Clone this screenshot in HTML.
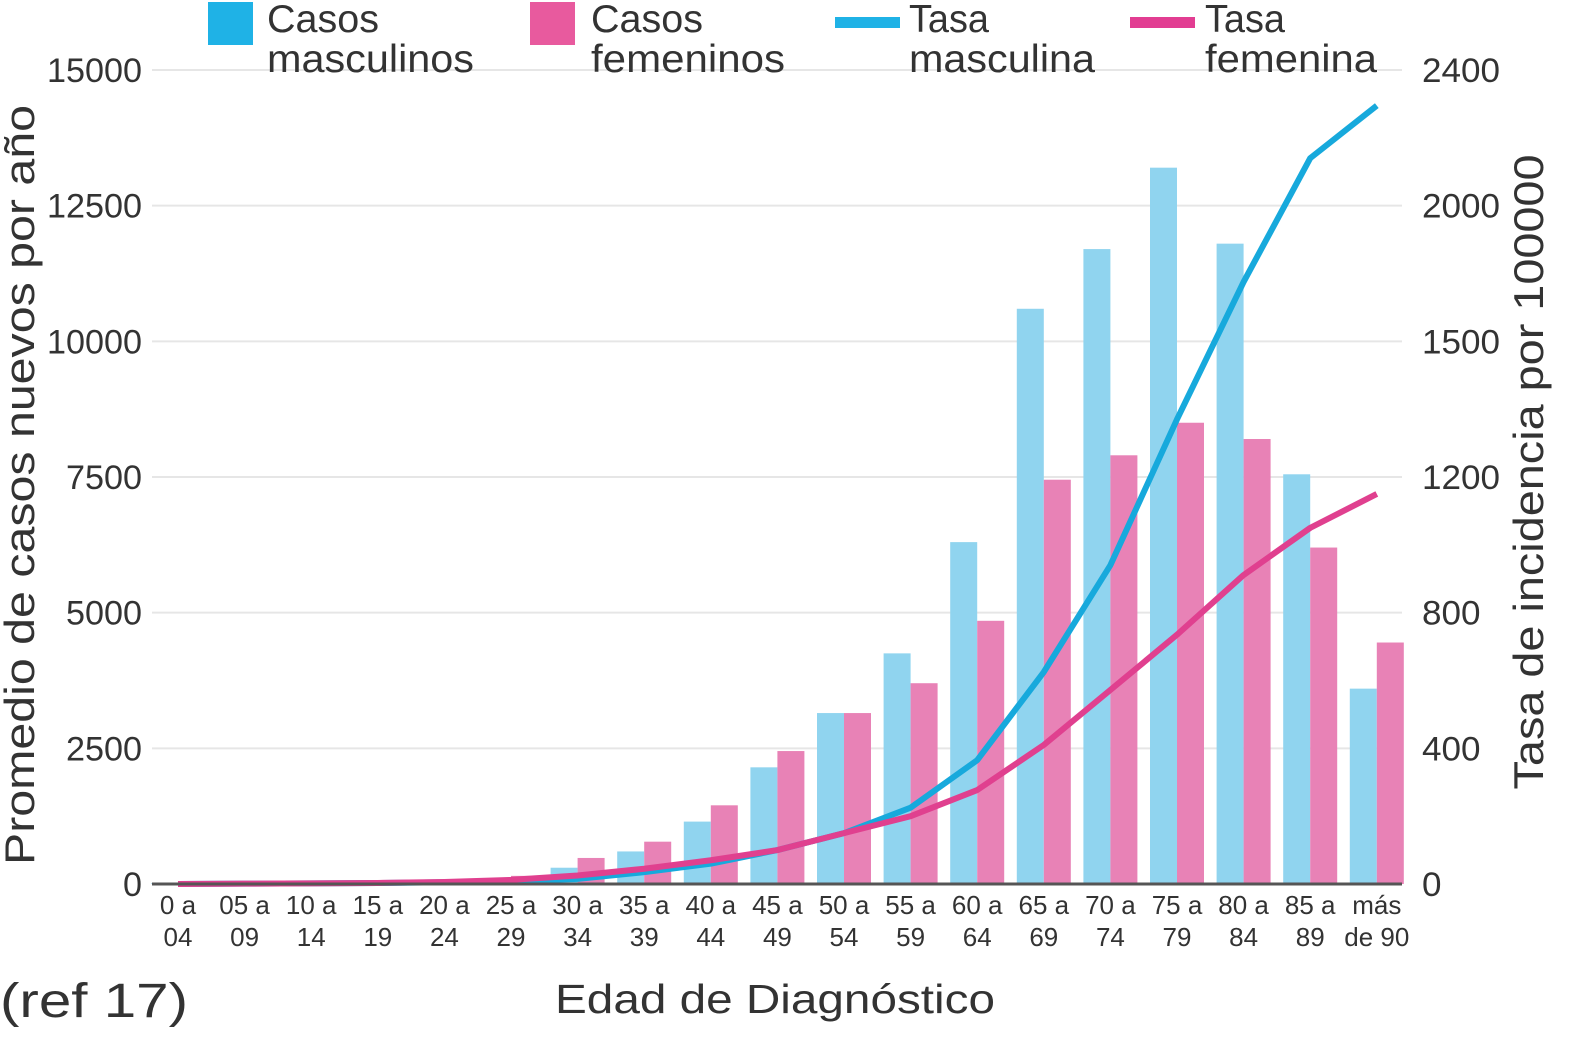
<!DOCTYPE html>
<html><head><meta charset="utf-8"><style>
body{margin:0;background:#fff;}
svg{display:block;font-family:"Liberation Sans","DejaVu Sans",sans-serif;}
</style></head><body>
<svg id="chart" width="1583" height="1037">
<g id="grid"></g><g id="bars"></g><g id="lines"></g><g id="axes"></g>
<g font-size="39" fill="#333">
 <rect x="208" y="2" width="45" height="43" fill="#1fb2e6"/>
 <text x="267" y="32" textLength="112" lengthAdjust="spacingAndGlyphs">Casos</text>
 <text x="267" y="72" textLength="207" lengthAdjust="spacingAndGlyphs">masculinos</text>
 <rect x="530" y="2" width="45" height="43" fill="#e85a9e"/>
 <text x="591" y="32" textLength="112" lengthAdjust="spacingAndGlyphs">Casos</text>
 <text x="591" y="72" textLength="194" lengthAdjust="spacingAndGlyphs">femeninos</text>
 <rect x="835" y="17" width="65" height="11" fill="#1fb2e6"/>
 <text x="909" y="32" textLength="80" lengthAdjust="spacingAndGlyphs">Tasa</text>
 <text x="909" y="72" textLength="186" lengthAdjust="spacingAndGlyphs">masculina</text>
 <rect x="1130" y="17" width="65" height="11" fill="#e23d92"/>
 <text x="1205" y="32" textLength="80" lengthAdjust="spacingAndGlyphs">Tasa</text>
 <text x="1205" y="72" textLength="172" lengthAdjust="spacingAndGlyphs">femenina</text>
</g>
<text x="34" y="485" font-size="42" fill="#333" text-anchor="middle" textLength="760" lengthAdjust="spacingAndGlyphs" transform="rotate(-90 34 485)">Promedio de casos nuevos por año</text>
<text x="1543" y="472" font-size="42" fill="#333" text-anchor="middle" textLength="635" lengthAdjust="spacingAndGlyphs" transform="rotate(-90 1543 472)">Tasa de incidencia por 100000</text>
<text x="775" y="1013" font-size="41" fill="#333" text-anchor="middle" textLength="440" lengthAdjust="spacingAndGlyphs">Edad de Diagnóstico</text>
<text x="0" y="1017" font-size="48" fill="#333" textLength="188" lengthAdjust="spacingAndGlyphs">(ref 17)</text>
</svg>
<script>
const categoriesTop=["0 a","05 a","10 a","15 a","20 a","25 a","30 a","35 a","40 a","45 a","50 a","55 a","60 a","65 a","70 a","75 a","80 a","85 a","más"];
const categoriesBottom=["04","09","14","19","24","29","34","39","44","49","54","59","64","69","74","79","84","89","de 90"];
const maleCases=[10,15,20,30,50,80,300,600,1150,2150,3150,4250,6300,10600,11700,13200,11800,7550,3600];
const femaleCases=[10,15,20,30,60,150,480,780,1450,2450,3150,3700,4850,7450,7900,8500,8200,6200,4450];
const maleRate=[0,1,2,3,5,8,15,35,60,100,150,225,365,625,940,1370,1775,2140,2295];
const femaleRate=[0,1,2,3,6,12,25,45,70,100,150,200,277,410,572,735,911,1050,1150];
const leftTicks=[0,2500,5000,7500,10000,12500,15000];
const rightTickLabels=["0","400","800","1200","1500","2000","2400"];
const NS="http://www.w3.org/2000/svg";
const y0=884,yTop=70,x0=152,x1=1402;
const yL=v=>y0-(v/15000)*(y0-yTop);
const yR=v=>y0-(v/2400)*(y0-yTop);
const xC=i=>178+i*66.6;
function mk(t,a,p){const e=document.createElementNS(NS,t);for(const k in a)e.setAttribute(k,a[k]);p.appendChild(e);return e;}
const grid=document.getElementById('grid'),axes=document.getElementById('axes');
leftTicks.forEach((v,i)=>{
 const y=yL(v);
 if(i>0){const g=mk('line',{x1:x0,x2:x1,y1:y,y2:y,stroke:'#e6e6e6','stroke-width':2},grid);
 
 }
 const s=String(v);
 const t=mk('text',{x:142,y:y+12,'font-size':34,fill:'#333','text-anchor':'end',textLength:s.length*19,lengthAdjust:'spacingAndGlyphs'},axes);t.textContent=s;
 
 
 const rs=rightTickLabels[i];
 const r=mk('text',{x:1422,y:y+12,'font-size':34,fill:'#333',textLength:rs.length*19.5,lengthAdjust:'spacingAndGlyphs'},axes);r.textContent=rs;
 
 
});
const bars=document.getElementById('bars');
const bw=27;
categoriesTop.forEach((c,i)=>{
 const cx=xC(i);
 const m=mk('rect',{x:cx-bw,y:yL(maleCases[i]),width:bw,height:y0-yL(maleCases[i]),fill:'#90d4ef'},bars);
 
 
 const f=mk('rect',{x:cx,y:yL(femaleCases[i]),width:bw,height:y0-yL(femaleCases[i]),fill:'#e882b6'},bars);
 
 
 const t1=mk('text',{x:cx,y:914,'font-size':26,fill:'#333','text-anchor':'middle'},axes);t1.textContent=c;
 
 
 const t2=mk('text',{x:cx,y:946,'font-size':26,fill:'#333','text-anchor':'middle'},axes);t2.textContent=categoriesBottom[i];
 
 
});
const base=mk('line',{x1:x0,x2:x1,y1:y0,y2:y0,stroke:'#555','stroke-width':3},axes);


const lines=document.getElementById('lines');
const ml=mk('polyline',{points:maleRate.map((v,i)=>xC(i)+','+yR(v)).join(' '),fill:'none',stroke:'#17a9dc','stroke-width':6,'stroke-linejoin':'round'},lines);


const fl=mk('polyline',{points:femaleRate.map((v,i)=>xC(i)+','+yR(v)).join(' '),fill:'none',stroke:'#e0408f','stroke-width':6,'stroke-linejoin':'round'},lines);


</script>
</body></html>
